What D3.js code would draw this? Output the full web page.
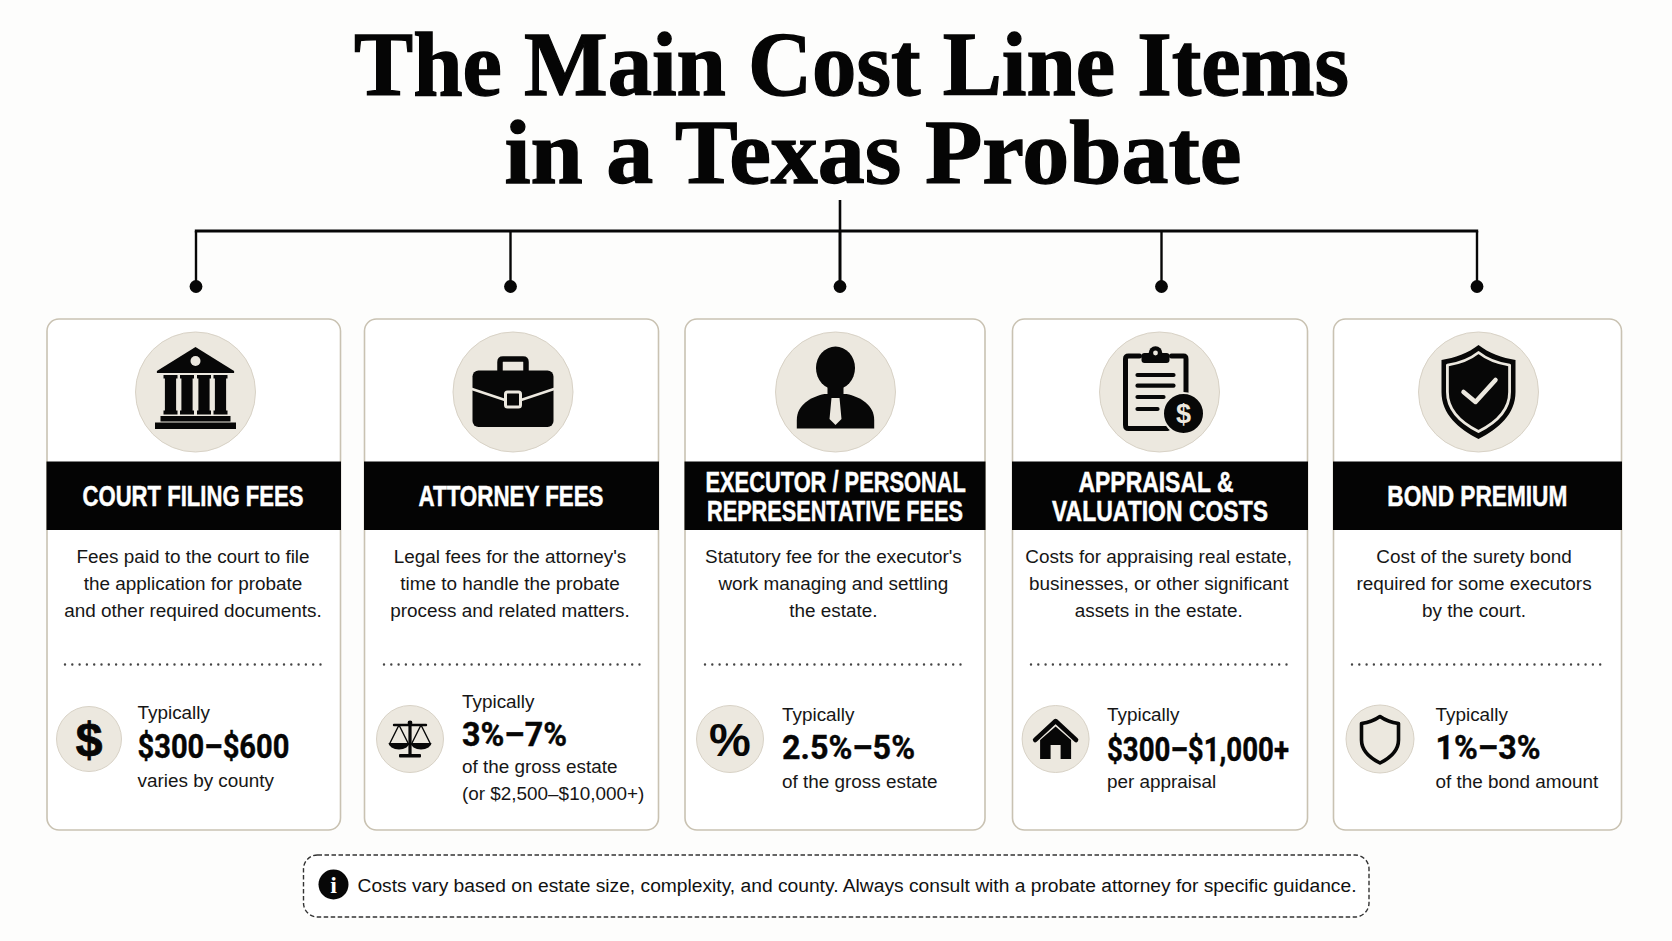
<!DOCTYPE html>
<html><head><meta charset="utf-8">
<script src="https://cdn.jsdelivr.net/npm/d3@7/dist/d3.min.js"></script>
<style>html,body{margin:0;padding:0;background:#fdfdfc}svg{display:block}</style></head>
<body><svg id="c" width="1672" height="941"></svg>
<script>
// ---- content ----
const titleLines = ["The Main Cost Line Items", "in a Texas Probate"];
const categories = ["court", "attorney", "executor", "appraisal", "bond"];
const headings = [["COURT FILING FEES"], ["ATTORNEY FEES"], ["EXECUTOR / PERSONAL", "REPRESENTATIVE FEES"], ["APPRAISAL &", "VALUATION COSTS"], ["BOND PREMIUM"]];
const descriptions = [
  ["Fees paid to the court to file", "the application for probate", "and other required documents."],
  ["Legal fees for the attorney's", "time to handle the probate", "process and related matters."],
  ["Statutory fee for the executor's", "work managing and settling", "the estate."],
  ["Costs for appraising real estate,", "businesses, or other significant", "assets in the estate."],
  ["Cost of the surety bond", "required for some executors", "by the court."]
];
const typicalLabel = "Typically";
const ranges = ["$300–$600", "3%–7%", "2.5%–5%", "$300–$1,000+", "1%–3%"];
const qualifiers = [["varies by county"], ["of the gross estate", "(or $2,500–$10,000+)"], ["of the gross estate"], ["per appraisal"], ["of the bond amount"]];
const footnote = "Costs vary based on estate size, complexity, and county. Always consult with a probate attorney for specific guidance.";

// ---- layout ----
const cardLeft = [47, 364.5, 685, 1012.5, 1333.5];
const cardRight = [340.5, 658.5, 985, 1307.5, 1621.5];
const dropX = [196, 510.5, 840, 1161.5, 1477];
const iconX = [195.5, 513, 835.5, 1159.5, 1478.5];
const headX = [[193], [511], [835.7, 835], [1156, 1160], [1477.3]];
const headW = [[221], [185], [260.5, 256], [155, 216], [180]];
const headY = [[506], [506], [491.8, 521.4], [491.8, 521.4], [506]];
const descX = [193, 510, 833.4, 1158.7, 1474];
const dotL = [65, 384, 705, 1031, 1352];
const dotR = [322, 641, 965, 1289, 1606];
const badgeX = [89, 410, 730, 1055.6, 1380];
const badgeR = [32.5, 33.5, 33.5, 33.5, 34];
const blockX = [137.5, 462, 782, 1107, 1435.5];
const typY = [719, 707.5, 721, 721, 721];
const rangeY = [758, 746.4, 759, 760.5, 759];
const rangeW = [152, 105, 133, 182, 105];
const qualY = [[787], [772.5, 799.5], [788.2], [788.2], [788.2]];

const INK = "#070707", CREAM = "#ece8df", EDGE = "#d8d2c6", CARD = "#c9c2b2";
const SANS = "'Liberation Sans', Arial, sans-serif";
const NARROW = "'Liberation Sans Narrow', 'Liberation Sans', sans-serif";
const X = (arr) => d3.scaleOrdinal().domain(categories).range(arr);
const svg = d3.select("#c");
svg.append("rect").attr("width", 1672).attr("height", 941).attr("fill", "#fdfdfc");

// ---- title ----
svg.selectAll(".title").data(titleLines).join("text").attr("class", "title")
  .attr("x", (d, i) => [851.5, 873][i]).attr("y", (d, i) => [95, 183][i])
  .attr("text-anchor", "middle").attr("font-family", "'Liberation Serif', serif")
  .attr("font-weight", 700).attr("font-size", 92).attr("fill", "#050505")
  .attr("stroke", "#050505").attr("stroke-width", 1.3)
  .attr("textLength", (d, i) => [995, 737][i]).attr("lengthAdjust", "spacingAndGlyphs").text(d => d);

// ---- connectors ----
const conn = svg.append("g").attr("stroke", INK).attr("fill", "none");
conn.append("line").attr("x1", 840).attr("x2", 840).attr("y1", 200).attr("y2", 231).attr("stroke-width", 2.6);
conn.append("line").attr("x1", d3.min(dropX) - 1.2).attr("x2", d3.max(dropX) + 1.2).attr("y1", 231).attr("y2", 231).attr("stroke-width", 3);
const dx = X(dropX);
conn.selectAll(".drop").data(categories).join("line").attr("x1", dx).attr("x2", dx)
  .attr("y1", 231).attr("y2", 286).attr("stroke-width", (d, i) => i === 2 ? 3 : 2.4);
svg.selectAll(".dot").data(categories).join("circle").attr("cx", dx).attr("cy", 286.5).attr("r", 6.4).attr("fill", INK);

// ---- cards ----
const cards = svg.selectAll(".card").data(categories).join("g").attr("class", "card");
const cl = X(cardLeft), cr = X(cardRight);
cards.append("rect").attr("x", cl).attr("y", 319).attr("width", d => cr(d) - cl(d)).attr("height", 511)
  .attr("rx", 12).attr("fill", "#fff").attr("stroke", CARD).attr("stroke-width", 1.6);
cards.append("rect").attr("x", d => cl(d) - .5).attr("y", 461.5).attr("width", d => cr(d) - cl(d) + 1).attr("height", 68.5).attr("fill", "#040404");

const ix = X(iconX);
cards.append("circle").attr("cx", ix).attr("cy", 392).attr("r", 60).attr("fill", CREAM).attr("stroke", EDGE).attr("stroke-width", 1);

cards.each(function (d, i) {
  const c = d3.select(this);
  c.selectAll(".head").data(headings[i]).join("text").attr("class", "head")
    .attr("x", (t, j) => headX[i][j]).attr("y", (t, j) => headY[i][j])
    .attr("text-anchor", "middle").attr("font-family", NARROW).attr("font-weight", 700).attr("font-size", 29).attr("fill", "#fff")
    .attr("stroke", "#fff").attr("stroke-width", .5)
    .attr("textLength", (t, j) => headW[i][j]).attr("lengthAdjust", "spacingAndGlyphs").text(t => t);
  c.selectAll(".desc").data(descriptions[i]).join("text").attr("class", "desc")
    .attr("x", descX[i]).attr("y", (t, j) => 563.2 + j * 26.9)
    .attr("text-anchor", "middle").attr("font-family", SANS).attr("font-size", 18.9).attr("fill", "#161616").text(t => t);
  c.append("line").attr("x1", dotL[i]).attr("x2", dotR[i]).attr("y1", 664.5).attr("y2", 664.5)
    .attr("stroke", "#444").attr("stroke-width", 2.4).attr("stroke-linecap", "round").attr("stroke-dasharray", "0 7.3");
  c.append("circle").attr("cx", badgeX[i]).attr("cy", 739).attr("r", badgeR[i]).attr("fill", CREAM).attr("stroke", EDGE).attr("stroke-width", 1);
  c.append("text").attr("x", blockX[i]).attr("y", typY[i]).attr("font-family", SANS).attr("font-size", 18.9).attr("fill", "#161616").text(typicalLabel);
  c.append("text").attr("x", blockX[i]).attr("y", rangeY[i]).attr("font-family", "Roboto, sans-serif").attr("font-weight", 700).attr("font-size", 33).attr("fill", "#060606")
    .attr("stroke", "#060606").attr("stroke-width", .4)
    .attr("textLength", rangeW[i]).attr("lengthAdjust", "spacingAndGlyphs").text(ranges[i]);
  c.selectAll(".qual").data(qualifiers[i]).join("text").attr("class", "qual")
    .attr("x", blockX[i]).attr("y", (t, j) => qualY[i][j]).attr("font-family", SANS).attr("font-size", 18.9).attr("fill", "#161616").text(t => t);
});

// ---- big icons (drawn around a local origin) ----
const at = (x, y) => svg.append("g").attr("transform", `translate(${x},${y})`);
const rect = (g, x, y, w, h, f, r = 0) => g.append("rect").attr("x", x).attr("y", y).attr("width", w).attr("height", h).attr("rx", r).attr("fill", f);
const path = (g, d, f, s, sw) => g.append("path").attr("d", d).attr("fill", f || "none").attr("stroke", s || "none").attr("stroke-width", sw || 0).attr("stroke-linejoin", "round").attr("stroke-linecap", "round");

// bank
{ const g = at(iconX[0], 392);
  path(g, "M0,-45 L38.6,-21 L38.6,-19 L-38.6,-19 L-38.6,-21 Z", INK);
  g.append("circle").attr("cy", -31).attr("r", 5).attr("fill", CREAM);
  [-25, -8.5, 8.5, 25].forEach(c => {
    rect(g, c - 7, -17, 14, 3.5, INK);
    rect(g, c - 5.6, -15, 11.2, 35, INK);
    rect(g, c - 7, 18.5, 14, 4, INK);
  });
  rect(g, -35, 24, 70, 5.5, INK);
  rect(g, -40.5, 30.5, 81, 6.5, INK);
}
// briefcase
{ const g = at(iconX[1], 392);
  path(g, "M-13,-20 V-30 Q-13,-33 -10,-33 H10 Q13,-33 13,-30 V-20", null, INK, 5.5);
  rect(g, -40.5, -21.5, 81, 56.5, INK, 6);
  path(g, "M-41,-3 L-8,8 M8,8 L41,-3", null, CREAM, 2.4);
  rect(g, -7.5, 0, 15, 15, INK, 2).attr("stroke", CREAM).attr("stroke-width", 3);
}
// person
{ const g = at(iconX[2], 392);
  g.append("ellipse").attr("cy", -24).attr("rx", 19.5).attr("ry", 21.5).attr("fill", INK);
  path(g, "M-8,-5 L8,-5 L8,3 L-8,3 Z", INK);
  path(g, "M-38.7,36.6 L-38.7,28 C-38.7,13 -25,5 -11,2 L11,2 C25,5 38.7,13 38.7,28 L38.7,36.6 Z", INK);
  path(g, "M-4,6 L4,6 L6,27 L0,33 L-6,27 Z", CREAM);
}
// clipboard
{ const g = at(iconX[3], 392);
  path(g, "M-20,-36 H-31 Q-34,-36 -34,-33 V33 Q-34,36.5 -31,36.5 H8", null, INK, 5);
  path(g, "M12,-36 H24 Q26.5,-36 26.5,-33 V2", null, INK, 5);
  rect(g, -18, -39, 28, 10, INK, 3);
  g.append("circle").attr("cx", -4).attr("cy", -39).attr("r", 6.8).attr("fill", INK);
  g.append("circle").attr("cx", -4).attr("cy", -39).attr("r", 2.4).attr("fill", CREAM);
  [[-17, 14], [-6.3, 14], [5, 4], [17, -2]].forEach(l => path(g, `M-22,${l[0]} H${l[1]}`, null, INK, 4.2));
  g.append("circle").attr("cx", 24).attr("cy", 21.5).attr("r", 20.5).attr("fill", INK).attr("stroke", CREAM).attr("stroke-width", 2);
  g.append("text").attr("x", 24).attr("y", 31).attr("text-anchor", "middle").attr("font-family", SANS).attr("font-weight", 700).attr("font-size", 27).attr("fill", CREAM).text("$");
}
// shield with check
{ const g = at(iconX[4], 392);
  const sh = k => `M0,${-47 * k} C${10 * k},${-39 * k} ${24 * k},${-34 * k} ${37 * k},${-32 * k} L${37 * k},${0} C${37 * k},${22 * k} ${20 * k},${37 * k} 0,${47 * k} C${-20 * k},${37 * k} ${-37 * k},${22 * k} ${-37 * k},0 L${-37 * k},${-32 * k} C${-24 * k},${-34 * k} ${-10 * k},${-39 * k} 0,${-47 * k} Z`;
  path(g, sh(1), INK);
  path(g, sh(.84), INK, CREAM, 2.8);
  path(g, "M-15,0 L-3,10 L17,-12", null, CREAM, 4.5);
}

// ---- small badges ----
{ const g = at(badgeX[0], 739);
  g.append("text").attr("y", 16.5).attr("text-anchor", "middle").attr("font-family", SANS).attr("font-weight", 700).attr("font-size", 48).attr("fill", INK).attr("stroke", INK).attr("stroke-width", .8).text("$");
}
{ const g = at(badgeX[1], 739);
  rect(g, -1.6, -18, 3.2, 34, INK);
  rect(g, -11, 15, 22, 3.5, INK, 1);
  path(g, "M-16,-14 H16", null, INK, 2.4);
  g.append("circle").attr("cy", -16).attr("r", 2.4).attr("fill", INK);
  [-11, 11].forEach(c => {
    path(g, `M${c},-14 L${c - 9},4 M${c},-14 L${c + 9},4`, null, INK, 1.4);
    path(g, `M${c - 10.5},4 H${c + 10.5} A10.5,6.5 0 0 1 ${c - 10.5},4 Z`, INK);
  });
}
{ const g = at(badgeX[2], 739);
  g.append("text").attr("y", 16.5).attr("text-anchor", "middle").attr("font-family", SANS).attr("font-weight", 700).attr("font-size", 47).attr("fill", INK).text("%");
}
{ const g = at(badgeX[3], 739);
  path(g, "M-20.5,1 L0,-18 L20.5,1", null, INK, 4.5);
  path(g, "M-15.5,1 L0,-12.5 L15.5,1 V20 H5 V6 H-5 V20 H-15.5 Z", INK);
}
{ const g = at(badgeX[4], 739);
  path(g, "M0,-22.5 C5,-19 12,-16.5 18.5,-15.5 V1 C18.5,11 10,19 0,24 C-10,19 -18.5,11 -18.5,1 V-15.5 C-12,-16.5 -5,-19 0,-22.5 Z", null, INK, 3.6);
}

// ---- footnote ----
svg.append("rect").attr("x", 303.5).attr("y", 855).attr("width", 1065.5).attr("height", 62).attr("rx", 14).attr("fill", "#fff")
  .attr("stroke", "#333").attr("stroke-width", 1.4).attr("stroke-dasharray", "4.5 2.5");
svg.append("circle").attr("cx", 333.5).attr("cy", 884.5).attr("r", 15).attr("fill", INK);
svg.append("text").attr("x", 333.5).attr("y", 893).attr("text-anchor", "middle").attr("font-family", "'Liberation Serif', serif").attr("font-weight", 700).attr("font-size", 24).attr("fill", "#fff").text("i");
svg.append("text").attr("x", 357.5).attr("y", 891.5).attr("font-family", SANS).attr("font-size", 18.8).attr("fill", "#111")
  .attr("textLength", 999).attr("lengthAdjust", "spacingAndGlyphs").text(footnote);
</script></body></html>
